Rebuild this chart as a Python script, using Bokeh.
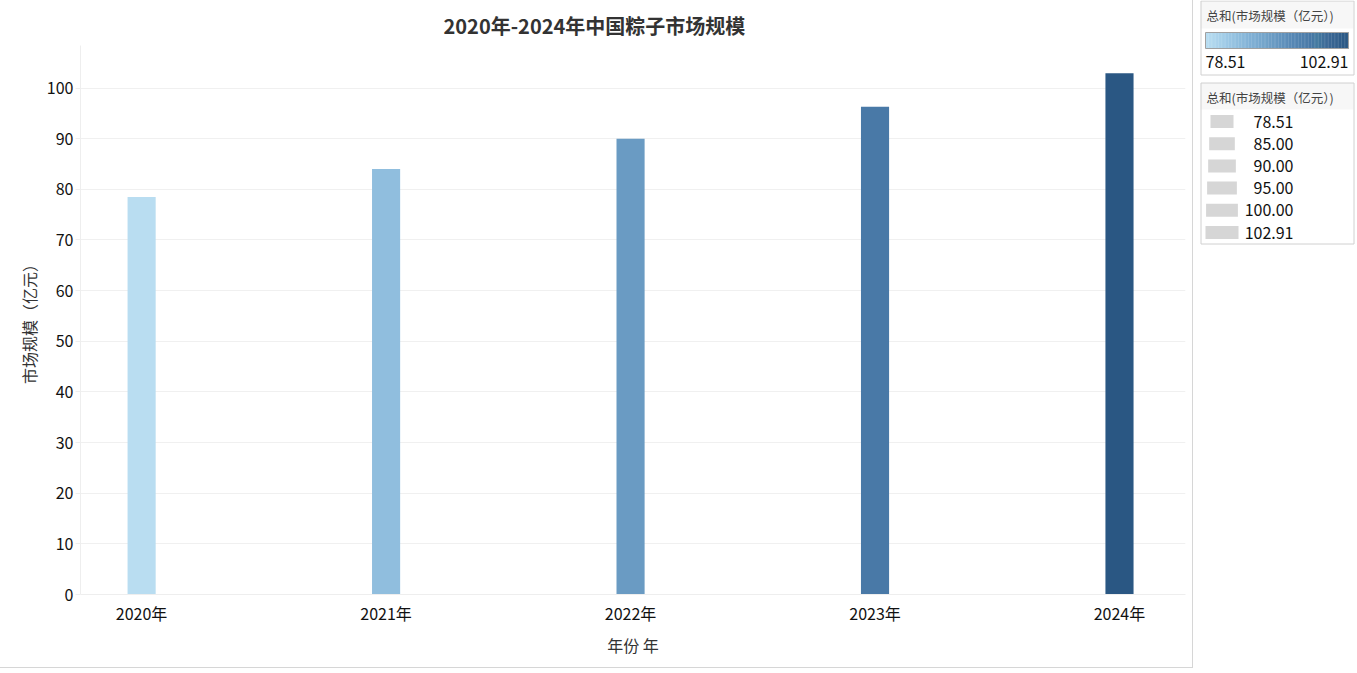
import numpy as np
from bokeh.plotting import figure
from bokeh.layouts import row, column
from bokeh.models import Range1d, FixedTicker, ColumnDataSource
from bokeh.transform import linear_cmap
from bokeh.core.properties import value
from bokeh.embed import file_html
from bokeh.resources import INLINE

# ---------------- data ----------------
years = ["2020年", "2021年", "2022年", "2023年", "2024年"]
market_size = [78.51, 84.0, 90.0, 96.3, 102.91]
y_ticks = [0, 10, 20, 30, 40, 50, 60, 70, 80, 90, 100]
legend_title = "总和(市场规模（亿元）)"
size_legend_values = [78.51, 85.00, 90.00, 95.00, 100.00, 102.91]
size_legend_labels = ["78.51", "85.00", "90.00", "95.00", "100.00", "102.91"]
color_low = 78.51
color_high = 102.91

# ---------------- style ----------------
FONT = "Noto Sans CJK SC"
TABLEAU_BLUE = ["#b9ddf1", "#afd6ed", "#a5cfe9", "#9bc7e4", "#92c0df", "#89b8da",
                "#80b0d5", "#79aacf", "#72a3c9", "#6a9bc3", "#6394be", "#5b8cb8",
                "#5485b2", "#4e7fac", "#4878a6", "#437a9f", "#3d6a98", "#376491",
                "#305d8a", "#2a5783"]


def interp_palette(pal, n):
    rgb = np.array([[int(c[i:i + 2], 16) for i in (1, 3, 5)] for c in pal], float)
    t = np.linspace(0, 1, len(pal))
    tt = np.linspace(0, 1, n)
    out = []
    for k in tt:
        r = np.interp(k, t, rgb[:, 0]); g = np.interp(k, t, rgb[:, 1]); b = np.interp(k, t, rgb[:, 2])
        out.append("#%02x%02x%02x" % (int(round(r)), int(round(g)), int(round(b))))
    return out


PALETTE = interp_palette(TABLEAU_BLUE, 256)

# ---------------- main chart ----------------
xs = list(range(len(years)))
src = ColumnDataSource(dict(x=xs, top=market_size, year=years))

p = figure(width=1192, height=667, output_backend="svg", toolbar_location=None,
           x_range=Range1d(-0.25, 4.27), y_range=Range1d(0, 108.4),
           min_border_left=80, min_border_right=8, min_border_top=45, min_border_bottom=74,
           frame_width=1104, frame_height=548)
p.outline_line_color = None
p.background_fill_color = "white"
p.styles = {"border-right": "1px solid #d6d6d6", "border-bottom": "1px solid #d6d6d6"}

p.vbar(x="x", top="top", width=0.115, source=src, line_color=None,
       fill_color=linear_cmap("top", PALETTE, color_low, color_high))

p.title.text = "2020年-2024年中国粽子市场规模"
p.title.text_font = FONT
p.title.text_font_size = "20px"
p.title.text_font_style = "bold"
p.title.text_color = "#333333"
p.title.align = "left"
p.title.offset = 363
p.title.standoff = 12

# x axis
p.xaxis.ticker = FixedTicker(ticks=xs)
p.xaxis.major_label_overrides = {i: y for i, y in enumerate(years)}
p.xaxis.axis_label = "年份 年"
p.xaxis.axis_label_text_font = FONT
p.xaxis.axis_label_text_font_size = "16px"
p.xaxis.axis_label_text_font_style = "normal"
p.xaxis.axis_label_text_color = "#333333"
p.xaxis.axis_label_standoff = 5
p.xaxis.major_label_text_font = FONT
p.xaxis.major_label_text_font_size = "16px"
p.xaxis.major_label_text_color = "#111111"
p.xaxis.major_label_standoff = 0
p.xaxis.major_tick_line_color = None
p.xaxis.minor_tick_line_color = None
p.xaxis.axis_line_color = "#eeeeee"

# y axis
p.yaxis.ticker = FixedTicker(ticks=y_ticks)
p.yaxis.axis_label = "市场规模（亿元）"
p.yaxis.axis_label_text_font = FONT
p.yaxis.axis_label_text_font_size = "16px"
p.yaxis.axis_label_text_font_style = "normal"
p.yaxis.axis_label_text_color = "#333333"
p.yaxis.axis_label_standoff = 3
p.yaxis.major_label_text_font = FONT
p.yaxis.major_label_text_font_size = "16px"
p.yaxis.major_label_text_color = "#111111"
p.yaxis.major_label_standoff = 2
p.yaxis.major_tick_in = 0
p.yaxis.major_tick_out = 5
p.yaxis.major_tick_line_color = "#eeeeee"
p.yaxis.minor_tick_line_color = None
p.yaxis.axis_line_color = "#eeeeee"

p.xgrid.grid_line_color = None
p.ygrid.grid_line_color = "#f0f0f0"

# ---------------- legends panel ----------------
L = figure(width=165, height=667, output_backend="svg", toolbar_location=None,
           x_range=Range1d(0, 165), y_range=Range1d(667, 0),
           x_axis_location=None, y_axis_location=None, min_border=0)
L.outline_line_color = None
L.xgrid.grid_line_color = None
L.ygrid.grid_line_color = None

# box 1: color legend
L.quad(left=[7], right=[160], top=[0.5], bottom=[28], fill_color="#f7f7f7", line_color=None)
L.quad(left=[7.5], right=[160.5], top=[0.5], bottom=[74.5], fill_color=None, line_color="#d0d0d0")
L.text(x=[13], y=[15], text=[legend_title], text_font=value(FONT), text_font_size="12.5px",
       text_color="#444444", text_baseline="middle")
n = 100
grad = interp_palette(TABLEAU_BLUE, n)
gx = np.linspace(12, 155, n + 1)
L.quad(left=gx[:-1], right=gx[1:] + 0.3, top=[32] * n, bottom=[48] * n, fill_color=grad, line_color=None)
L.quad(left=[12], right=[155], top=[32], bottom=[48], fill_color=None, line_color="#a0a0a0")
L.text(x=[12], y=[61], text=["%.2f" % color_low], text_font=value(FONT), text_font_size="16px",
       text_color="#111111", text_baseline="middle")
L.text(x=[155], y=[61], text=["%.2f" % color_high], text_font=value(FONT), text_font_size="16px",
       text_color="#111111", text_baseline="middle", text_align="right")

# box 2: size legend
L.quad(left=[7], right=[160], top=[82.5], bottom=[109], fill_color="#f7f7f7", line_color=None)
L.quad(left=[7.5], right=[160.5], top=[82.5], bottom=[243.5], fill_color=None, line_color="#d0d0d0")
L.text(x=[13], y=[97], text=[legend_title], text_font=value(FONT), text_font_size="12.5px",
       text_color="#444444", text_baseline="middle")
vals = np.array(size_legend_values)
rw = 23 + (vals - vals.min()) / (vals.max() - vals.min()) * 10
ry = 121 + np.arange(len(vals)) * 22.2
L.rect(x=[28.5] * len(vals), y=ry, width=rw, height=13, fill_color="#d6d6d6", line_color=None)
L.text(x=[100] * len(vals), y=ry, text=size_legend_labels, text_font=value(FONT),
       text_font_size="16px", text_color="#111111", text_baseline="middle", text_align="right")

layout = row(p, column(L), spacing=0)
open("out.html", "w").write(file_html(layout, INLINE))
